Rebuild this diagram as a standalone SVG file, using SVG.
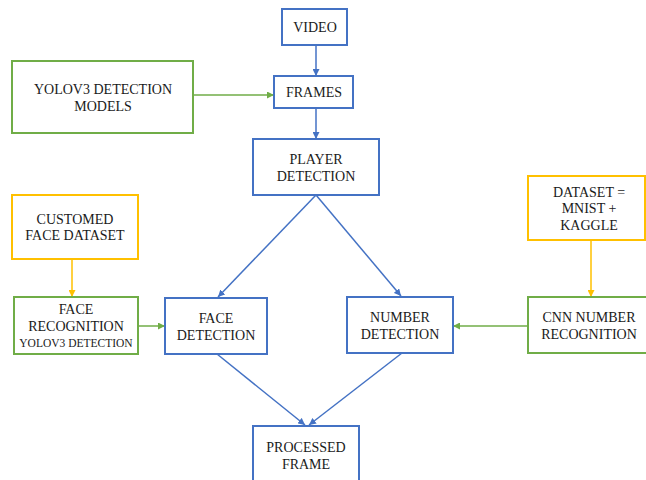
<svg xmlns="http://www.w3.org/2000/svg" width="646" height="480" viewBox="0 0 646 480">
<style>
text{font-family:'Liberation Serif','Times New Roman',serif;font-size:14px;fill:#1a1a1a;text-anchor:middle}
.b{fill:#fff;stroke:#4472C4;stroke-width:2}
.g{fill:#fff;stroke:#70AD47;stroke-width:2}
.y{fill:#fff;stroke:#FFC000;stroke-width:2}
.cb{stroke:#4472C4;stroke-width:1.5;fill:none}
.cg{stroke:#70AD47;stroke-width:1.5;fill:none}
.cy{stroke:#FFC000;stroke-width:1.5;fill:none}
.sm{font-size:11.5px}
</style>
<defs>
<marker id="ab" viewBox="0 0 10 10" refX="10" refY="5" markerWidth="7" markerHeight="7" markerUnits="userSpaceOnUse" orient="auto"><path d="M0,0L10,5L0,10z" fill="#4472C4"/></marker>
<marker id="ag" viewBox="0 0 10 10" refX="10" refY="5" markerWidth="7" markerHeight="7" markerUnits="userSpaceOnUse" orient="auto"><path d="M0,0L10,5L0,10z" fill="#70AD47"/></marker>
<marker id="ay" viewBox="0 0 10 10" refX="10" refY="5" markerWidth="7" markerHeight="7" markerUnits="userSpaceOnUse" orient="auto"><path d="M0,0L10,5L0,10z" fill="#FFC000"/></marker>
</defs>
<g id="connectors">
<line class="cb" x1="316" y1="45" x2="316" y2="76" marker-end="url(#ab)"/>
<line class="cg" x1="193" y1="95" x2="274" y2="95" marker-end="url(#ag)"/>
<line class="cb" x1="316" y1="108" x2="316" y2="139" marker-end="url(#ab)"/>
<line class="cb" x1="316" y1="195" x2="218" y2="297" marker-end="url(#ab)"/>
<line class="cb" x1="316" y1="195" x2="401" y2="296" marker-end="url(#ab)"/>
<line class="cy" x1="72" y1="259" x2="72" y2="297" marker-end="url(#ay)"/>
<line class="cg" x1="138" y1="326" x2="165" y2="326" marker-end="url(#ag)"/>
<line class="cy" x1="591" y1="240" x2="591" y2="297" marker-end="url(#ay)"/>
<line class="cg" x1="528" y1="326" x2="453" y2="326" marker-end="url(#ag)"/>
<line class="cb" x1="217" y1="354" x2="305" y2="425" marker-end="url(#ab)"/>
<line class="cb" x1="402" y1="353" x2="309" y2="425" marker-end="url(#ab)"/>
</g>
<g id="video"><rect class="b" x="282" y="9" width="65" height="36"/><text x="315" y="32">VIDEO</text></g>
<g id="yolo"><rect class="g" x="12" y="61" width="181" height="72"/><text x="103" y="94">YOLOV3 DETECTION</text><text x="103" y="111">MODELS</text></g>
<g id="frames"><rect class="b" x="274" y="76" width="79" height="32"/><text x="314" y="97">FRAMES</text></g>
<g id="player"><rect class="b" x="253" y="139" width="126" height="56"/><text x="316" y="164">PLAYER</text><text x="316" y="181">DETECTION</text></g>
<g id="customed"><rect class="y" x="12" y="195" width="126" height="64"/><text x="75" y="224">CUSTOMED</text><text x="75" y="240">FACE DATASET</text></g>
<g id="dataset"><rect class="y" x="528" y="176" width="117" height="64"/><text x="589" y="197">DATASET =</text><text x="589" y="213">MNIST +</text><text x="589" y="230">KAGGLE</text></g>
<g id="facerec"><rect class="g" x="14" y="297" width="124" height="57"/><text x="76" y="314">FACE</text><text x="76" y="331">RECOGNITION</text><text class="sm" x="76" y="347">YOLOV3 DETECTION</text></g>
<g id="facedet"><rect class="b" x="165" y="298" width="102" height="56"/><text x="216" y="323">FACE</text><text x="216" y="340">DETECTION</text></g>
<g id="numdet"><rect class="b" x="347" y="297" width="106" height="56"/><text x="400" y="322">NUMBER</text><text x="400" y="339">DETECTION</text></g>
<g id="cnn"><rect class="g" x="528" y="297" width="125" height="56"/><text x="589" y="322">CNN NUMBER</text><text x="589" y="339">RECOGNITION</text></g>
<g id="processed"><rect class="b" x="253" y="426" width="106" height="60"/><text x="306" y="452">PROCESSED</text><text x="306" y="469">FRAME</text></g>
</svg>
